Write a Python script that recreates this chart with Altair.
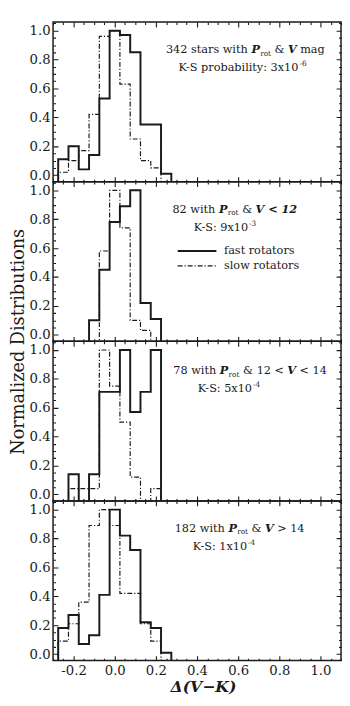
import altair as alt
import pandas as pd

# ---------------- data ----------------
bin_centers = [-0.25, -0.20, -0.15, -0.10, -0.05, 0.00, 0.05, 0.10, 0.15, 0.20, 0.25]
BIN_W = 0.05

fast_1 = [0.11, 0.20, 0.04, 0.14, 0.53, 1.00, 0.97, 0.85, 0.35, 0.35, 0.01]
slow_1 = [0.02, 0.10, 0.17, 0.42, 0.96, 1.00, 0.63, 0.25, 0.10, 0.05, 0.00]
fast_2 = [0.00, 0.00, 0.00, 0.10, 0.45, 0.78, 0.89, 1.00, 0.22, 0.11, 0.00]
slow_2 = [0.00, 0.00, 0.00, 0.00, 0.58, 1.00, 0.74, 0.10, 0.03, 0.00, 0.00]
fast_3 = [0.00, 0.14, 0.00, 0.14, 0.71, 0.71, 1.00, 0.57, 0.71, 1.00, 0.00]
slow_3 = [0.00, 0.04, 0.04, 0.04, 1.00, 0.75, 0.50, 0.12, 0.00, 0.04, 0.00]
fast_4 = [0.18, 0.27, 0.07, 0.13, 0.41, 1.00, 0.82, 0.72, 0.22, 0.18, 0.01]
slow_4 = [0.09, 0.21, 0.36, 0.89, 1.00, 0.89, 0.42, 0.42, 0.21, 0.09, 0.00]

# annotation text pieces: (style, text); n normal, bi bold italic, sub, sup
label_1 = [("n", "342 stars with "), ("bi", "P"), ("sub", "rot"), ("n", " & "), ("bi", "V"), ("n", " mag")]
ks_1 = [("n", "K-S probability: 3x10"), ("sup", "-6")]
label_2 = [("n", "82 with "), ("bi", "P"), ("sub", "rot"), ("n", " & "), ("bi", "V < 12")]
ks_2 = [("n", "K-S: 9x10"), ("sup", "-3")]
label_3 = [("n", "78 with "), ("bi", "P"), ("sub", "rot"), ("n", " & 12 < "), ("bi", "V"), ("n", " < 14")]
ks_3 = [("n", "K-S: 5x10"), ("sup", "-4")]
label_4 = [("n", "182 with "), ("bi", "P"), ("sub", "rot"), ("n", " & "), ("bi", "V"), ("n", " > 14")]
ks_4 = [("n", "K-S: 1x10"), ("sup", "-4")]

# annotation centres (data units)
label_pos = [(0.635, 0.87), (0.583, 0.87), (0.658, 0.86), (0.607, 0.875)]
ks_pos = [(0.621, 0.75), (0.536, 0.745), (0.555, 0.735), (0.531, 0.75)]

legend_labels = ["fast rotators", "slow rotators"]
legend_y = [0.58, 0.477]
legend_x = [0.306, 0.494, 0.531]

x_title = "Δ(V−K)"
y_title = "Normalized Distributions"

# ---------------- layout / style ----------------
W, H = 294, 163
XDOM = [-0.3, 1.1]
YDOM = [-0.045, 1.06]
FONT = "DejaVu Serif"
INK = "#1a1a1a"
FLOOR = -0.5
PX = W / (XDOM[1] - XDOM[0])
PY = H / (YDOM[1] - YDOM[0])

CW = {' ': .318, '.': .318, ':': .337, '-': .338, '&': .87, '<': .838, '>': .838,
      'K': .75, 'S': .685, 'P': .733, 'V': .722, 'x': .564,
      'a': .596, 'b': .640, 'c': .560, 'd': .640, 'e': .592, 'f': .370, 'g': .640,
      'h': .644, 'i': .320, 'k': .610, 'l': .320, 'm': .948, 'n': .644, 'o': .602,
      'p': .640, 'r': .478, 's': .513, 't': .402, 'u': .644, 'v': .565, 'w': .856,
      'y': .565, 'z': .527}
for d in "0123456789":
    CW[d] = .636

FS = 11.5
STY = {"n": (FS, 1.0), "bi": (FS, 1.06), "sub": (7.5, 1.0), "sup": (7.5, 1.0)}


def tw(s, style):
    size, f = STY[style]
    return sum(CW.get(c, .6) for c in s) * size * f


def text_df(lines):
    rows = []
    for (cx, cy), pieces in lines:
        total = sum(tw(t, s) for s, t in pieces)
        start = cx - total / 2 / PX
        off = 0.0
        for s, t in pieces:
            lead = len(t) - len(t.lstrip())
            rows.append({"x": start + (off + tw(" " * lead, s)) / PX,
                         "y": cy - 4 / PY, "t": t.strip(), "s": s})
            off += tw(t, s)
    return pd.DataFrame(rows)


def step_df(vals):
    nz = [i for i, v in enumerate(vals) if v > 0]
    a, b = nz[0], nz[-1]
    edge = lambda i: round(bin_centers[0] - BIN_W / 2 + i * BIN_W, 4)
    rows = [{"x": edge(a), "y": FLOOR, "o": 0}]
    k = 1
    for i in range(a, b + 1):
        rows.append({"x": edge(i), "y": vals[i] if vals[i] > 0 else FLOOR, "o": k})
        k += 1
    rows.append({"x": edge(b + 1), "y": FLOOR, "o": k})
    return pd.DataFrame(rows)


MAJ = "abs(datum.value*5 - round(datum.value*5)) < 0.001"
LBL = MAJ + " ? (datum.value < -0.001 ? '-' : '') + format(abs(datum.value), '.1f') : ''"
x_vals = [round(-0.3 + 0.05 * i, 2) for i in range(29)]
y_vals = [round(0.05 * i, 2) for i in range(22)]

common_axis = dict(ticks=False, domain=False, grid=True, gridColor=INK, gridOpacity=1,
                   gridWidth=1.1, labelFont=FONT, labelFontSize=13.5, labelColor=INK,
                   labelOverlap=False, labelFlush=False, labelExpr=LBL,
                   titleFont=FONT, titleColor=INK)


def x_axis(bottom):
    kw = dict(common_axis)
    kw.update(values=x_vals,
              gridDash={"condition": {"test": MAJ, "value": [5, H - 10, 5, 2000]},
                        "value": [2.5, H - 5, 2.5, 2000]})
    if bottom:
        kw.update(labels=True, labelPadding=3, title=x_title, titleFontSize=16,
                  titleFontStyle="italic", titleFontWeight="bold", titlePadding=2,
                  titleX=W / 2 + 6)
    else:
        kw.update(labels=False, title=None)
    return alt.Axis(**kw)


def y_axis(with_title):
    kw = dict(common_axis)
    kw.update(values=y_vals, labelPadding=3,
              gridDash={"condition": {"test": MAJ, "value": [5, W - 10, 5, 2000]},
                        "value": [2.5, W - 5, 2.5, 2000]})
    if with_title:
        kw.update(title=y_title, titleFontSize=18, titleFontWeight="normal",
                  titleY=H, titlePadding=2)
    else:
        kw.update(title=None)
    return alt.Axis(**kw)


def panel(fv, sv, lab, labpos, ks, kspos, idx):
    xa = x_axis(idx == 3)
    ya = y_axis(idx == 1)
    xs = alt.Scale(domain=XDOM, nice=False, zero=False)
    ys = alt.Scale(domain=YDOM, nice=False, zero=False)
    X = lambda f="x": alt.X(f + ":Q", scale=xs, axis=xa)
    Y = lambda f="y": alt.Y(f + ":Q", scale=ys, axis=ya)

    fast_l = alt.Chart(step_df(fv)).mark_line(
        interpolate="step-after", color=INK, strokeWidth=2, clip=True
    ).encode(x=X(), y=Y(), order="o:Q")
    slow_l = alt.Chart(step_df(sv)).mark_line(
        interpolate="step-after", color=INK, strokeWidth=1.2, strokeDash=[5, 2, 1.2, 2], clip=True
    ).encode(x=X(), y=Y(), order="o:Q")

    tdf = text_df([(labpos, lab), (kspos, ks)])
    layers = [fast_l, slow_l]
    specs = {"n": dict(fontSize=FS),
             "bi": dict(fontSize=FS, fontStyle="italic", fontWeight="bold"),
             "sub": dict(fontSize=7.5, dy=2.5),
             "sup": dict(fontSize=7.5, dy=-5)}
    for s, kw in specs.items():
        sub = tdf[tdf["s"] == s]
        if len(sub):
            layers.append(alt.Chart(sub).mark_text(
                font=FONT, color=INK, align="left", baseline="alphabetic", **kw
            ).encode(x=X(), y=Y(), text="t:N"))

    if idx == 1:
        leg = pd.DataFrame({"x": [legend_x[0]] * 2, "x2": [legend_x[1]] * 2,
                            "y": legend_y, "lab": legend_labels,
                            "tx": [legend_x[2]] * 2})
        layers.append(alt.Chart(leg.iloc[[0]]).mark_rule(color=INK, strokeWidth=2).encode(
            x=X(), x2="x2:Q", y=Y()))
        layers.append(alt.Chart(leg.iloc[[1]]).mark_rule(
            color=INK, strokeWidth=1.2, strokeDash=[5, 2, 1.2, 2]).encode(x=X(), x2="x2:Q", y=Y()))
        layers.append(alt.Chart(leg).mark_text(
            font=FONT, fontSize=FS, color=INK, align="left", baseline="middle"
        ).encode(x=X("tx"), y=Y(), text="lab:N"))

    return alt.layer(*layers).properties(width=W, height=H)


panels = [
    panel(fast_1, slow_1, label_1, label_pos[0], ks_1, ks_pos[0], 0),
    panel(fast_2, slow_2, label_2, label_pos[1], ks_2, ks_pos[1], 1),
    panel(fast_3, slow_3, label_3, label_pos[2], ks_3, ks_pos[2], 2),
    panel(fast_4, slow_4, label_4, label_pos[3], ks_4, ks_pos[3], 3),
]

chart = alt.vconcat(*panels, spacing=0, bounds="flush").properties(
    padding={"left": 0, "top": 0, "right": 0, "bottom": 0}
).configure_view(stroke=INK, strokeWidth=1.5)

chart.save("out.html", embed_options={"renderer": "svg", "actions": False})
